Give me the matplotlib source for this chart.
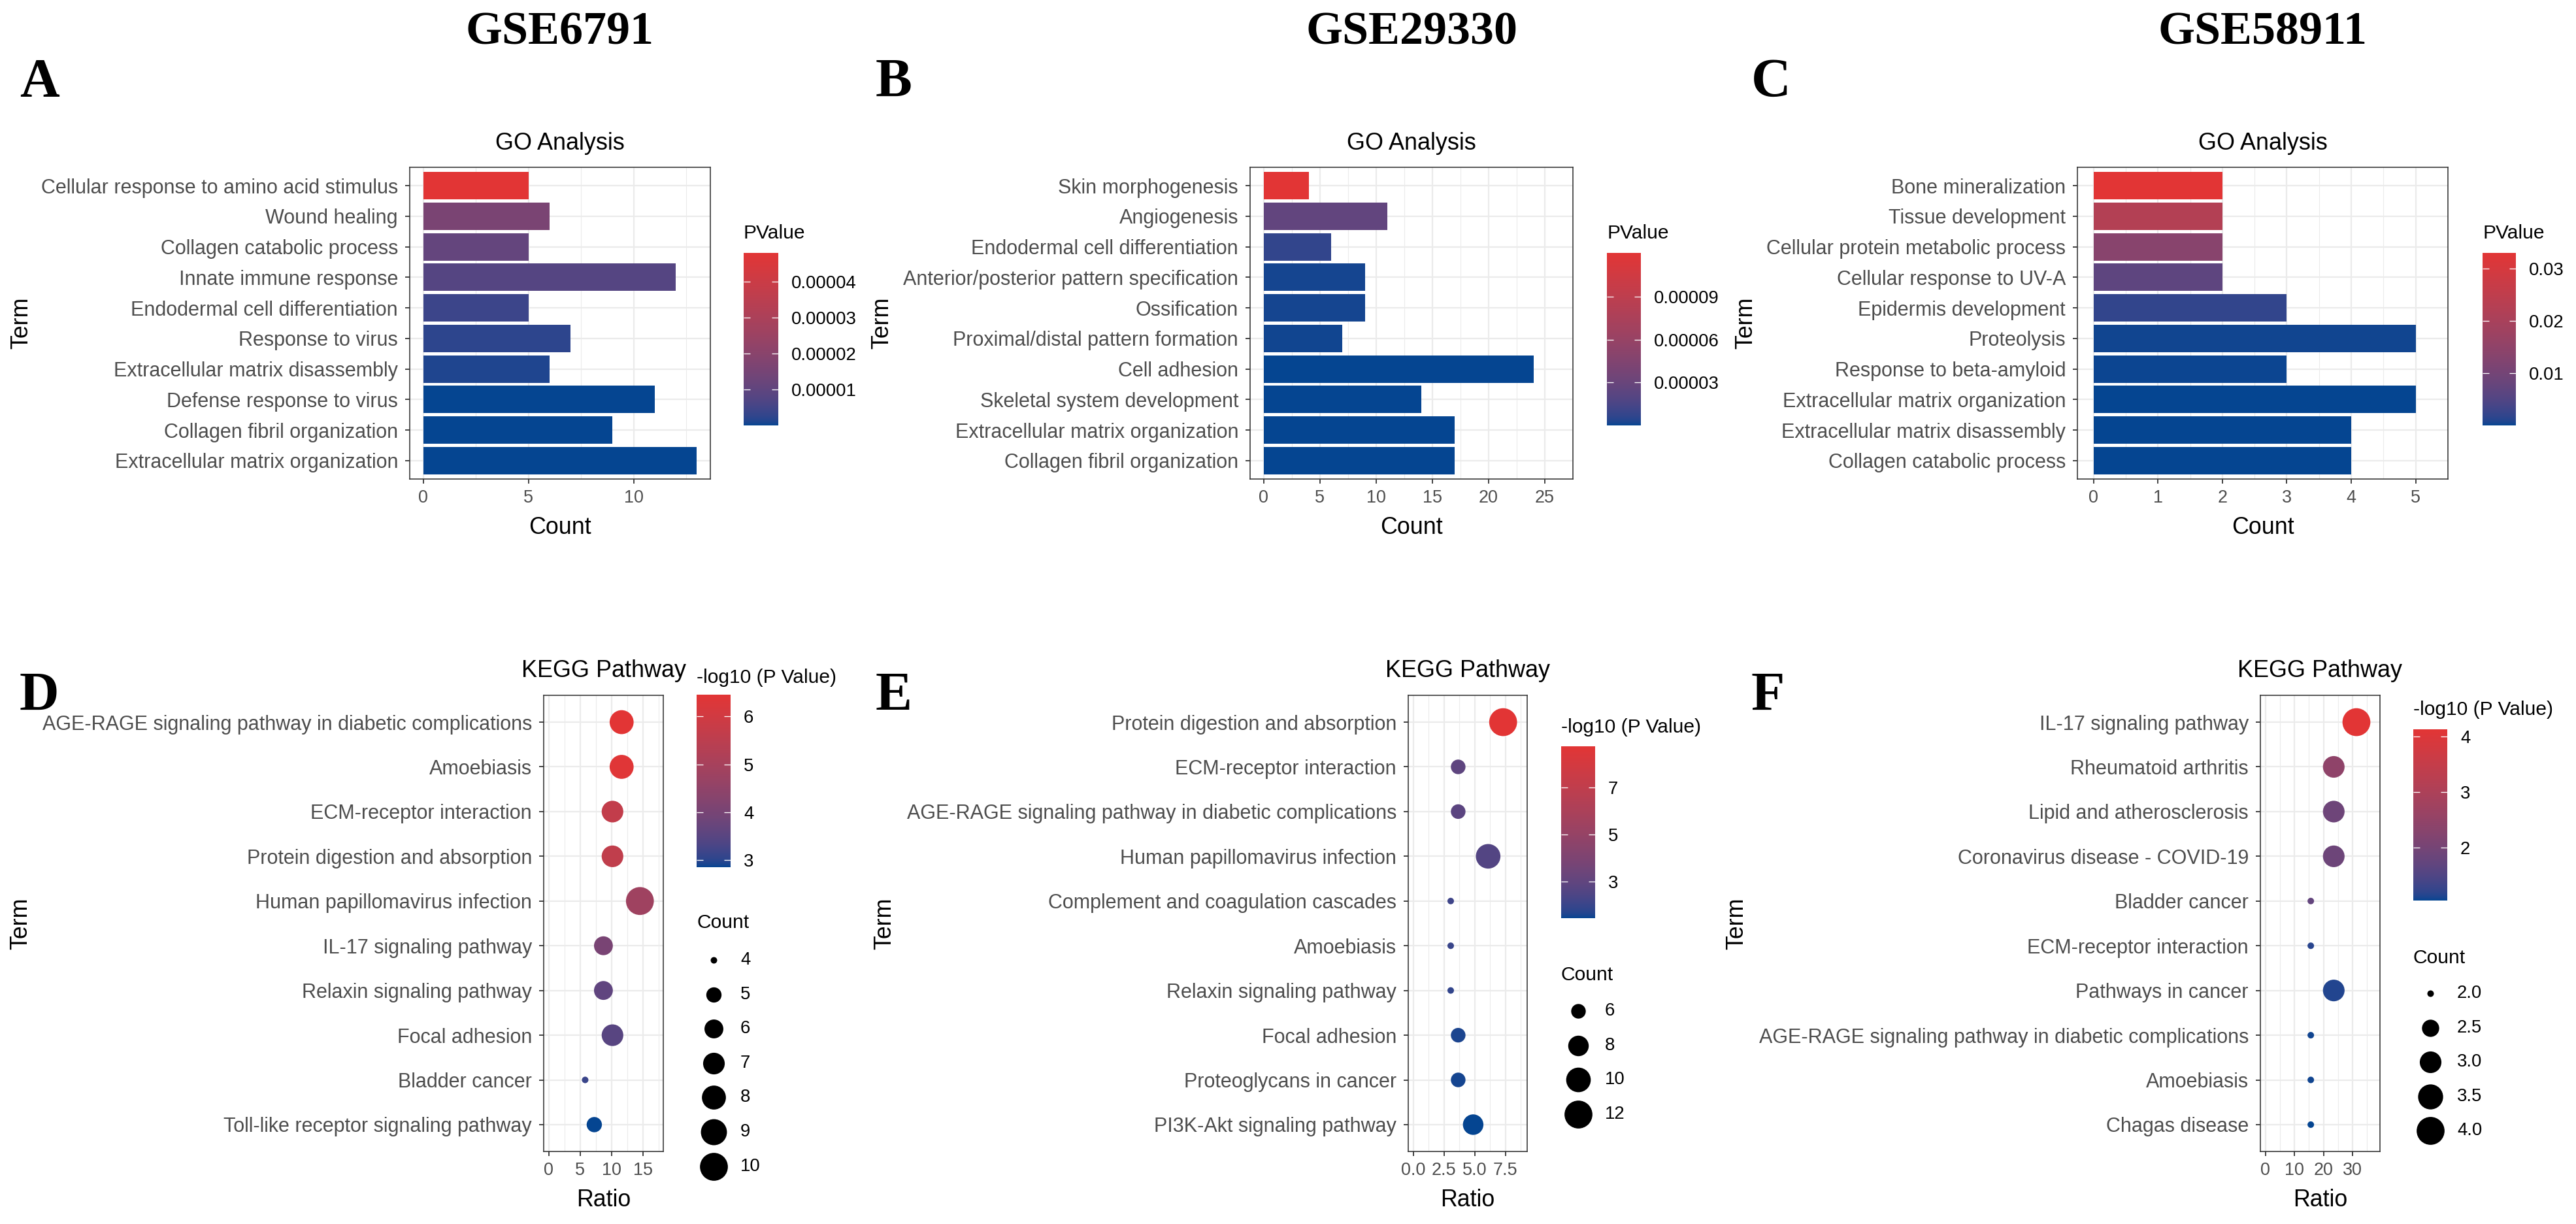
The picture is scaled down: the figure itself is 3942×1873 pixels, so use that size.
import numpy as np
import matplotlib
matplotlib.use("Agg")
import matplotlib.pyplot as plt
from matplotlib.colors import ListedColormap, Normalize
from matplotlib.cm import ScalarMappable

# ---------------- data (top-to-bottom order as shown) ----------------
go_a_terms = ["Cellular response to amino acid stimulus", "Wound healing",
              "Collagen catabolic process", "Innate immune response",
              "Endodermal cell differentiation", "Response to virus",
              "Extracellular matrix disassembly", "Defense response to virus",
              "Collagen fibril organization", "Extracellular matrix organization"]
go_a_count = [5, 6, 5, 12, 5, 7, 6, 11, 9, 13]
go_a_pvalue = [4.80e-5, 1.60e-5, 1.10e-5, 8.0e-6, 4.0e-6, 2.4e-6, 1.2e-6, 1.5e-7, 8e-8, 2e-8]

go_b_terms = ["Skin morphogenesis", "Angiogenesis", "Endodermal cell differentiation",
              "Anterior/posterior pattern specification", "Ossification",
              "Proximal/distal pattern formation", "Cell adhesion",
              "Skeletal system development", "Extracellular matrix organization",
              "Collagen fibril organization"]
go_b_count = [4, 11, 6, 9, 9, 7, 24, 14, 17, 17]
go_b_pvalue = [1.205e-4, 2.6e-5, 7.5e-6, 1.8e-6, 1.5e-6, 1.0e-6, 4e-7, 1e-7, 5e-8, 1e-9]

go_c_terms = ["Bone mineralization", "Tissue development",
              "Cellular protein metabolic process", "Cellular response to UV-A",
              "Epidermis development", "Proteolysis", "Response to beta-amyloid",
              "Extracellular matrix organization", "Extracellular matrix disassembly",
              "Collagen catabolic process"]
go_c_count = [2, 2, 2, 2, 3, 5, 3, 5, 4, 4]
go_c_pvalue = [0.0330, 0.0224, 0.0135, 0.0066, 0.0020, 3e-4, 2.5e-4, 1e-4, 4e-5, 1e-5]

kegg_d_terms = ["AGE-RAGE signaling pathway in diabetic complications", "Amoebiasis",
                "ECM-receptor interaction", "Protein digestion and absorption",
                "Human papillomavirus infection", "IL-17 signaling pathway",
                "Relaxin signaling pathway", "Focal adhesion", "Bladder cancer",
                "Toll-like receptor signaling pathway"]
kegg_d_ratio = [11.59, 11.59, 10.14, 10.14, 14.49, 8.70, 8.70, 10.14, 5.80, 7.25]
kegg_d_count = [8, 8, 7, 7, 10, 6, 6, 7, 4, 5]
kegg_d_logp = [6.458, 6.40, 5.66, 5.60, 4.83, 4.04, 3.60, 3.49, 3.13, 2.844]

kegg_e_terms = ["Protein digestion and absorption", "ECM-receptor interaction",
                "AGE-RAGE signaling pathway in diabetic complications",
                "Human papillomavirus infection", "Complement and coagulation cascades",
                "Amoebiasis", "Relaxin signaling pathway", "Focal adhesion",
                "Proteoglycans in cancer", "PI3K-Akt signaling pathway"]
kegg_e_ratio = [7.32, 3.66, 3.66, 6.10, 3.05, 3.05, 3.05, 3.66, 3.66, 4.88]
kegg_e_count = [12, 6, 6, 10, 5, 5, 5, 6, 6, 8]
kegg_e_logp = [8.74, 2.90, 2.82, 2.60, 2.10, 2.00, 1.87, 1.58, 1.54, 1.43]

kegg_f_terms = ["IL-17 signaling pathway", "Rheumatoid arthritis",
                "Lipid and atherosclerosis", "Coronavirus disease - COVID-19",
                "Bladder cancer", "ECM-receptor interaction", "Pathways in cancer",
                "AGE-RAGE signaling pathway in diabetic complications", "Amoebiasis",
                "Chagas disease"]
kegg_f_ratio = [31.3, 23.5, 23.5, 23.5, 15.6, 15.6, 23.5, 15.6, 15.6, 15.6]
kegg_f_count = [4, 3, 3, 3, 2, 2, 3, 2, 2, 2]
kegg_f_logp = [4.124, 2.44, 1.90, 1.88, 1.75, 1.18, 1.15, 1.09, 1.08, 1.056]

dataset_names = ["GSE6791", "GSE29330", "GSE58911"]
panel_letters = ["A", "B", "C", "D", "E", "F"]

go_xticks = [[0, 5, 10], [0, 5, 10, 15, 20, 25], [0, 1, 2, 3, 4, 5]]
kegg_xticks = [[0, 5, 10, 15], [0, 2.5, 5, 7.5], [0, 10, 20, 30]]
kegg_xticklabels = [["0", "5", "10", "15"], ["0.0", "2.5", "5.0", "7.5"], ["0", "10", "20", "30"]]

go_cbar_ticks = [[1e-5, 2e-5, 3e-5, 4e-5], [3e-5, 6e-5, 9e-5], [0.01, 0.02, 0.03]]
go_cbar_labels = [["0.00001", "0.00002", "0.00003", "0.00004"],
                  ["0.00003", "0.00006", "0.00009"], ["0.01", "0.02", "0.03"]]
kegg_cbar_ticks = [[3, 4, 5, 6], [3, 5, 7], [2, 3, 4]]
kegg_count_breaks = [[4, 5, 6, 7, 8, 9, 10], [6, 8, 10, 12], [2.0, 2.5, 3.0, 3.5, 4.0]]
kegg_count_labels = [["4", "5", "6", "7", "8", "9", "10"], ["6", "8", "10", "12"],
                     ["2.0", "2.5", "3.0", "3.5", "4.0"]]

# ---------------- style / layout (pixels) ----------------
W, H = 3942, 1873
BORDER = "#333333"
GRID = "#EBEBEB"
TICKTXT = "#4D4D4D"
LOW, HIGH = "#054591", "#E23535"

plt.rcParams["font.family"] = ["Liberation Sans", "DejaVu Sans"]

go_boxes = [(627, 256, 1087, 733), (1913, 256, 2407, 733), (3179, 256, 3746, 733)]
go_cbars = [(1138, 387, 1191, 651), (2459, 387, 2511, 651), (3799, 387, 3850, 651)]
go_term_x = [33, 1350, 2672]
kegg_boxes = [(832, 1064, 1015, 1762), (2155, 1064, 2337, 1762), (3459, 1064, 3642, 1762)]
kegg_xlims = [(-0.78, 18.2), (-0.41, 9.28), (-1.75, 39.4)]
kegg_cbars = [(1066, 1063, 1118, 1327), (2389, 1142, 2441, 1405), (3693, 1116, 3745, 1378)]
kegg_cbar_title_y = [1045, 1121, 1094]
kegg_count_title_y = [1420, 1500, 1474]
kegg_count_first_y = [1469, 1547, 1520]
kegg_term_x = [32, 1354, 2658]
letter_x = [30, 1340, 2680]


def hex2rgb(h):
    return np.array([int(h[i:i + 2], 16) for i in (1, 3, 5)]) / 255.0


def srgb_to_lab(c):
    lin = np.where(c > 0.04045, ((c + 0.055) / 1.055) ** 2.4, c / 12.92)
    m = np.array([[0.4124, 0.3576, 0.1805], [0.2126, 0.7152, 0.0722], [0.0193, 0.1192, 0.9505]])
    xyz = m @ lin / np.array([0.95047, 1.0, 1.08883])
    f = np.where(xyz > 0.008856, np.cbrt(xyz), 7.787 * xyz + 16 / 116)
    return np.array([116 * f[1] - 16, 500 * (f[0] - f[1]), 200 * (f[1] - f[2])])


def lab_to_srgb(lab):
    L, a, b = lab.T
    fy = (L + 16) / 116
    f = np.stack([fy + a / 500, fy, fy - b / 200])
    xyz = np.where(f > 0.206893, f ** 3, (f - 16 / 116) / 7.787)
    xyz = xyz * np.array([0.95047, 1.0, 1.08883])[:, None]
    minv = np.array([[3.2406, -1.5372, -0.4986], [-0.9689, 1.8758, 0.0415], [0.0557, -0.2040, 1.0570]])
    lin = np.clip(minv @ xyz, 0, 1)
    c = np.where(lin > 0.0031308, 1.055 * lin ** (1 / 2.4) - 0.055, 12.92 * lin)
    return np.clip(c.T, 0, 1)


# gradient interpolated in Lab space, like ggplot's scale_*_gradient
lab_lo, lab_hi = srgb_to_lab(hex2rgb(LOW)), srgb_to_lab(hex2rgb(HIGH))
tt = np.linspace(0, 1, 256)[:, None]
cmap = ListedColormap(lab_to_srgb(lab_lo + tt * (lab_hi - lab_lo)))

fig = plt.figure(figsize=(W / 72, H / 72), dpi=72, facecolor="white")
ov = fig.add_axes([0, 0, 1, 1], zorder=-1)
ov.set_xlim(0, W)
ov.set_ylim(H, 0)
ov.axis("off")
ov.autoscale(False)


def px_axes(x0, y0, x1, y1):
    return fig.add_axes([x0 / W, 1 - y1 / H, (x1 - x0) / W, (y1 - y0) / H])


def dot_size(v, vmin, vmax):
    d = 10 + 32.7 * np.sqrt((np.asarray(v, float) - vmin) / (vmax - vmin))
    return d ** 2


def bw_frame(ax, box, xmajor, xminor, terms, term_x):
    for s in ax.spines.values():
        s.set_edgecolor(BORDER)
        s.set_linewidth(1.6)
        s.set_zorder(5)
    ax.set_xticks(xmajor)
    ax.set_xticks(xminor, minor=True)
    ax.set_yticks(range(len(terms)), terms)
    ax.set_ylim(len(terms) - 0.4, -0.6)
    ax.grid(which="major", color=GRID, linewidth=2.2)
    ax.grid(which="minor", axis="x", color=GRID, linewidth=1.1)
    ax.set_axisbelow(True)
    ax.tick_params(which="major", length=7, width=1.8, color=BORDER, labelcolor=TICKTXT)
    ax.tick_params(which="minor", length=0)
    ax.tick_params(axis="y", labelsize=30.5, pad=11)
    ax.tick_params(axis="x", labelsize=27, pad=9)
    ax.set_ylabel("Term", fontsize=35.7, va="center")
    ax.yaxis.set_label_coords((term_x - box[0]) / (box[2] - box[0]), 0.5)


def add_cbar(box, norm, ticks, labels, title, title_y):
    cax = px_axes(*box)
    cb = fig.colorbar(ScalarMappable(norm=norm, cmap=cmap), cax=cax)
    cb.outline.set_visible(False)
    cb.set_ticks(ticks, labels=labels)
    cax.tick_params(direction="in", length=10, width=1.3, color="white",
                    left=True, right=True, labelsize=27.5, pad=20)
    ov.text(box[0], title_y, title, fontsize=30, va="baseline", ha="left")


# ---------------- top row: GO bar charts ----------------
go_data = [(go_a_terms, go_a_count, go_a_pvalue),
           (go_b_terms, go_b_count, go_b_pvalue),
           (go_c_terms, go_c_count, go_c_pvalue)]
for i, (terms, count, pval) in enumerate(go_data):
    box = go_boxes[i]
    ax = px_axes(*box)
    norm = Normalize(min(pval), max(pval))
    ax.barh(range(len(terms)), count, height=0.9, color=cmap(norm(pval)), zorder=2)
    top = max(count)
    ax.set_xlim(-0.05 * top, 1.05 * top)
    xt = go_xticks[i]
    step = xt[1] - xt[0]
    bw_frame(ax, box, xt, [t + step / 2 for t in xt], terms, go_term_x[i])
    ax.set_title("GO Analysis", fontsize=36, pad=27)
    ax.set_xlabel("Count", fontsize=35.7, va="baseline")
    ax.xaxis.set_label_coords(0.5, -84 / (box[3] - box[1]))
    add_cbar(go_cbars[i], norm, go_cbar_ticks[i], go_cbar_labels[i], "PValue", 365)
    ov.text((box[0] + box[2]) / 2, 67, dataset_names[i], fontsize=72, fontweight="bold",
            family="Liberation Serif", ha="center", va="baseline")
    ov.text(letter_x[i], 148, panel_letters[i], fontsize=84, fontweight="bold",
            family="Liberation Serif", ha="left", va="baseline")

# ---------------- bottom row: KEGG dot plots ----------------
kegg_data = [(kegg_d_terms, kegg_d_ratio, kegg_d_count, kegg_d_logp),
             (kegg_e_terms, kegg_e_ratio, kegg_e_count, kegg_e_logp),
             (kegg_f_terms, kegg_f_ratio, kegg_f_count, kegg_f_logp)]
for i, (terms, ratio, count, logp) in enumerate(kegg_data):
    box = kegg_boxes[i]
    ax = px_axes(*box)
    norm = Normalize(min(logp), max(logp))
    cmin, cmax = min(count), max(count)
    ax.scatter(ratio, range(len(terms)), s=dot_size(count, cmin, cmax), c=logp,
               cmap=cmap, norm=norm, linewidths=0, zorder=3)
    ax.set_xlim(*kegg_xlims[i])
    xt = kegg_xticks[i]
    step = xt[1] - xt[0]
    bw_frame(ax, box, xt, [t + step / 2 for t in xt], terms, kegg_term_x[i])
    ax.set_xticklabels(kegg_xticklabels[i])
    ax.set_title("KEGG Pathway", fontsize=36, pad=28)
    ax.set_xlabel("Ratio", fontsize=35.7, va="baseline")
    ax.xaxis.set_label_coords(0.5, -84 / (box[3] - box[1]))

    cb_box = kegg_cbars[i]
    add_cbar(cb_box, norm, kegg_cbar_ticks[i], [str(t) for t in kegg_cbar_ticks[i]],
             "-log10 (P Value)", kegg_cbar_title_y[i])
    ov.text(cb_box[0], kegg_count_title_y[i], "Count", fontsize=30, va="baseline", ha="left")
    kx = cb_box[0] + 26
    for k, (b, lab) in enumerate(zip(kegg_count_breaks[i], kegg_count_labels[i])):
        ky = kegg_count_first_y[i] + 52.6 * k
        ov.scatter([kx], [ky], s=dot_size(b, cmin, cmax), c="black", linewidths=0)
        ov.text(kx + 41, ky, lab, fontsize=27.5, va="center", ha="left")
    ov.text(letter_x[i], 1087, panel_letters[i + 3], fontsize=84, fontweight="bold",
            family="Liberation Serif", ha="left", va="baseline")

fig.savefig("out.png", dpi=72, facecolor="white")
